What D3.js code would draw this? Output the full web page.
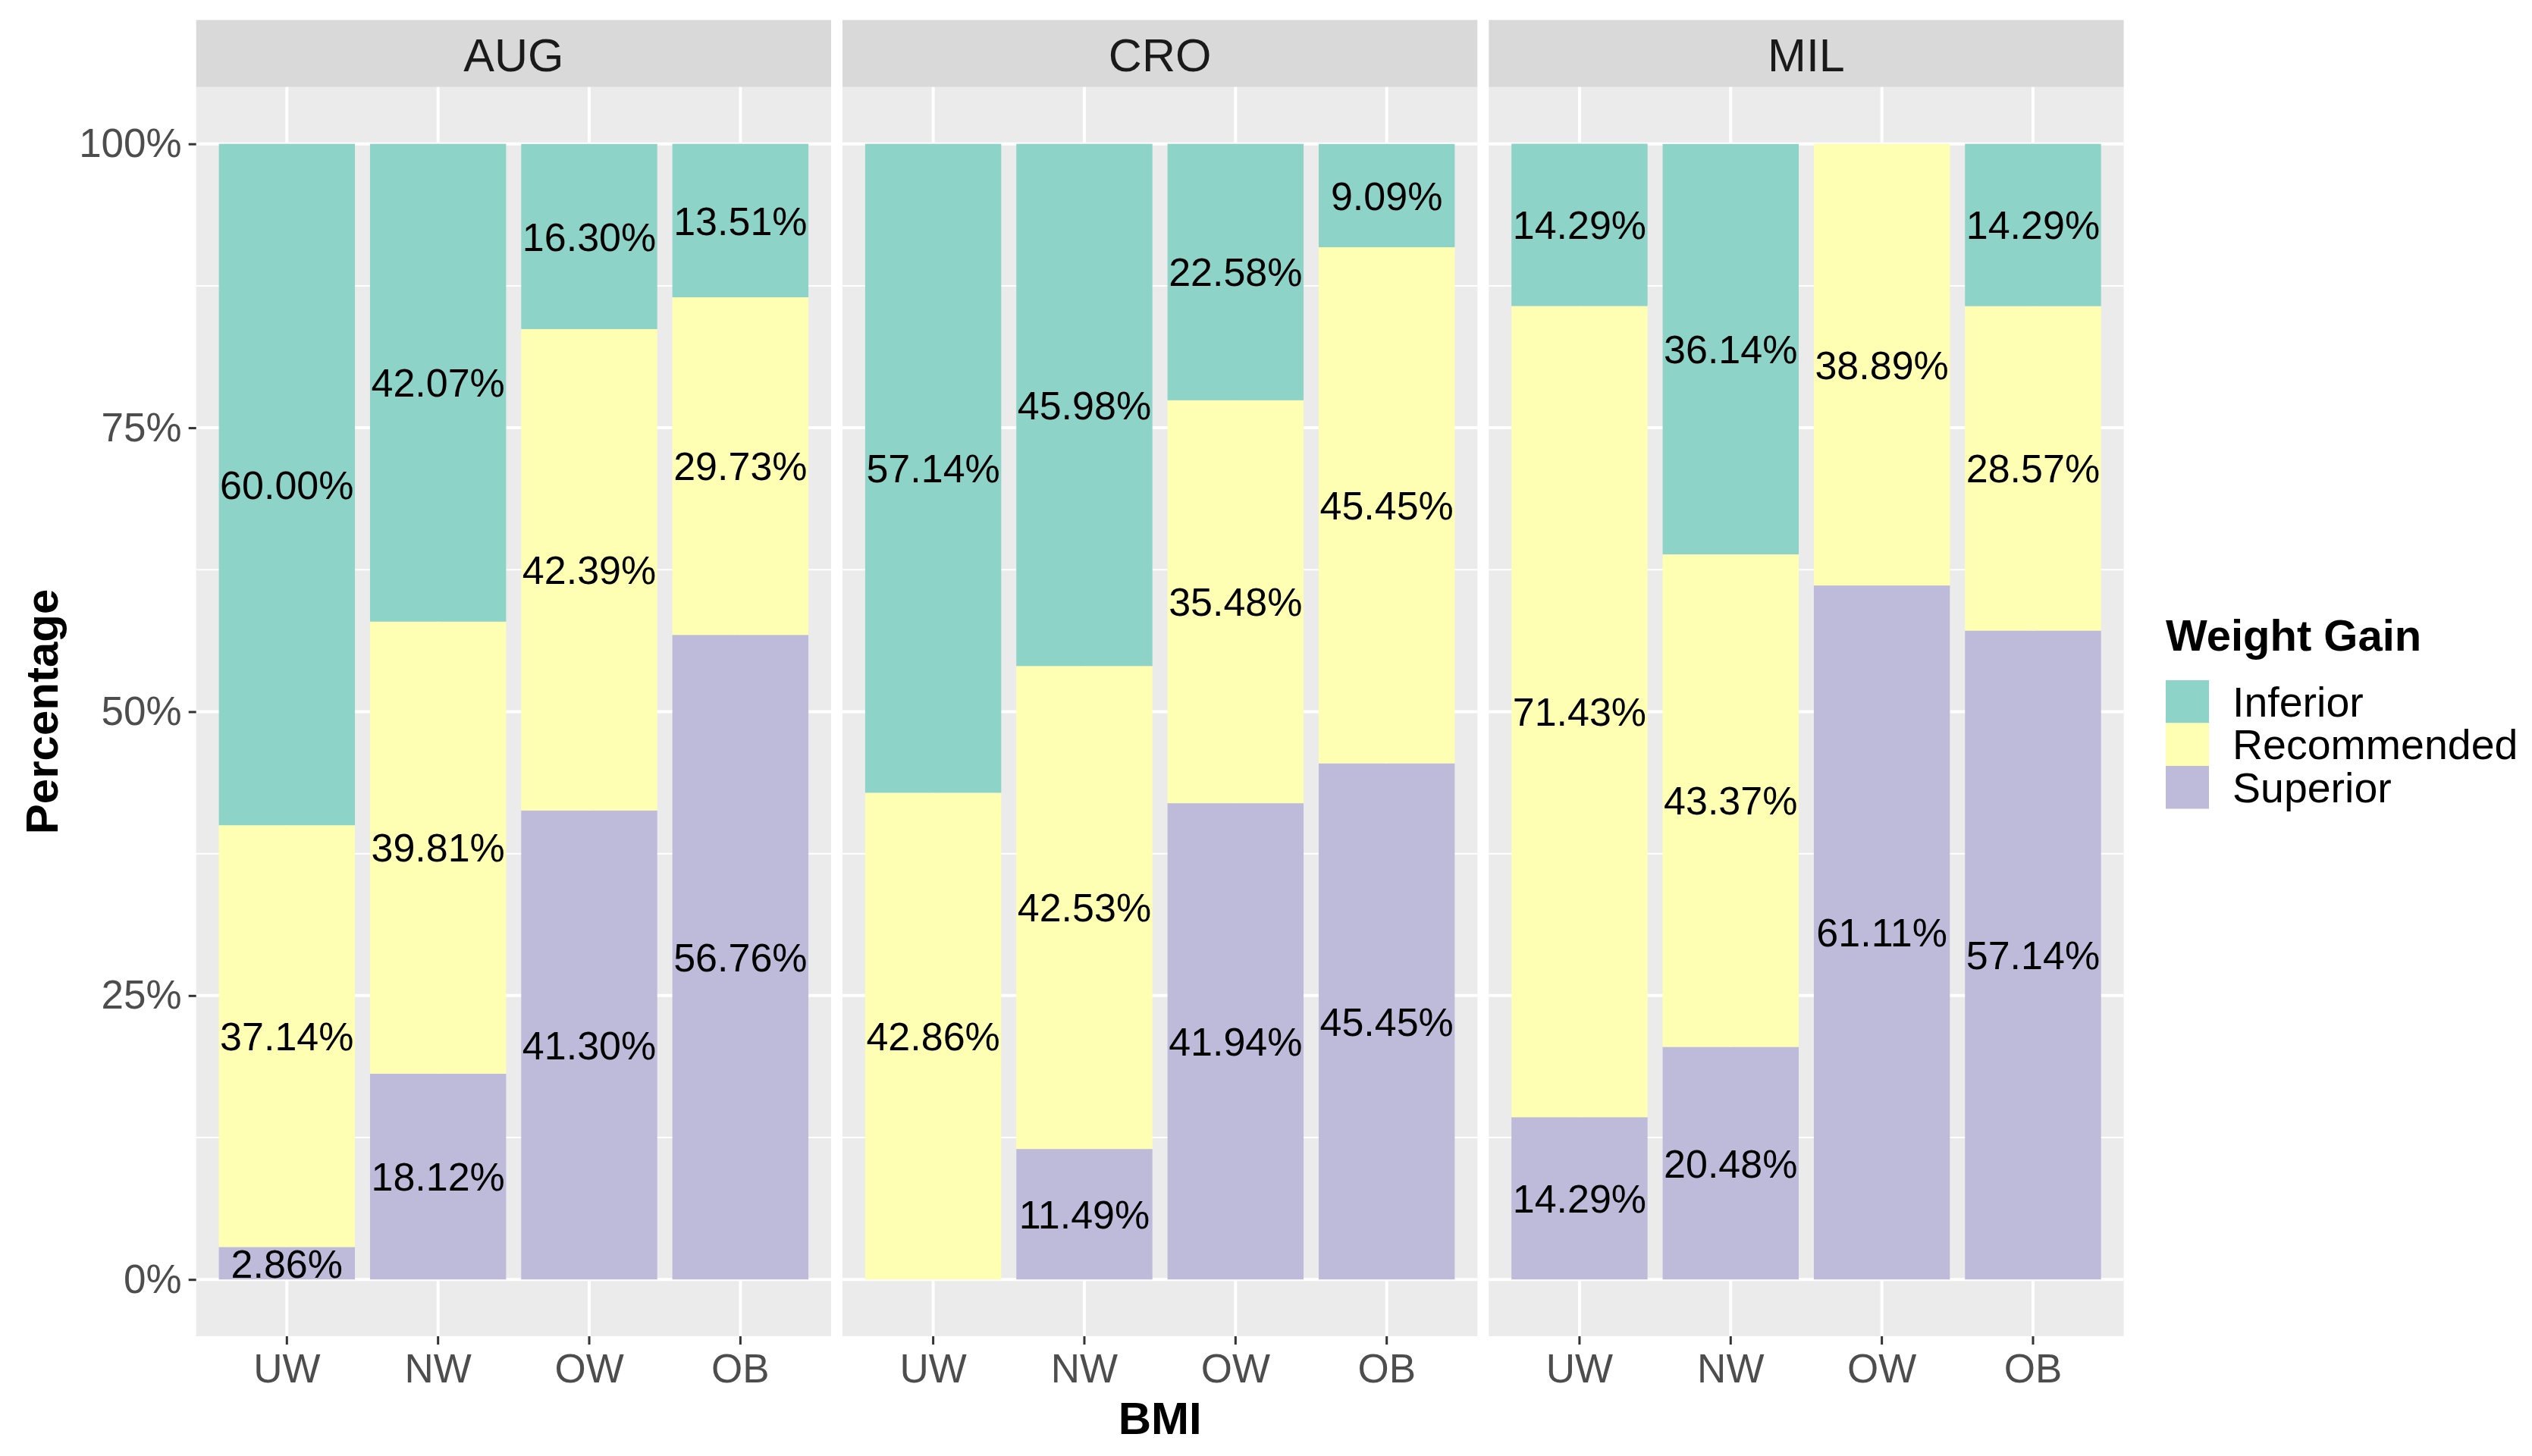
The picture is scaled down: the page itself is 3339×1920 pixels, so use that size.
<!DOCTYPE html>
<html>
<head>
<meta charset="utf-8">
<script src="https://cdn.jsdelivr.net/npm/d3@7"></script>
<style>
  body { margin: 0; background: #ffffff; }
  svg { display: block; font-family: 'Liberation Sans', Arial, sans-serif; }
</style>
</head>
<body>
<div id="chart"></div>
<script>
// Weight gain categories by BMI group, faceted by site

const facets = ['AUG', 'CRO', 'MIL'];
const bmiGroups = ['UW', 'NW', 'OW', 'OB'];
const weightGains = ['Inferior', 'Recommended', 'Superior'];

// One value per facet x BMI group (AUG UW..OB, CRO UW..OB, MIL UW..OB)
const inferiorValues    = [60.00, 42.07, 16.30, 13.51, 57.14, 45.98, 22.58, 9.09, 14.29, 36.14, 0, 14.29];
const recommendedValues = [37.14, 39.81, 42.39, 29.73, 42.86, 42.53, 35.48, 45.45, 71.43, 43.37, 38.89, 28.57];
const superiorValues    = [2.86, 18.12, 41.30, 56.76, 0, 11.49, 41.94, 45.45, 14.29, 20.48, 61.11, 57.14];

const yTicks = [0, 25, 50, 75, 100];
const yMinorTicks = [12.5, 37.5, 62.5, 87.5];

// Build rows for d3.stack
const rows = [];
facets.forEach((f, fi) => {
  bmiGroups.forEach((b, bi) => {
    const i = fi * bmiGroups.length + bi;
    rows.push({
      facet: f,
      bmi: b,
      Inferior: inferiorValues[i],
      Recommended: recommendedValues[i],
      Superior: superiorValues[i]
    });
  });
});

const W = 3339, H = 1920;
const panelLeft = 258.7, panelRight = 2800.6;
const panelGap = 15;

const textColor = '#4D4D4D';
const colorScale = d3.scaleOrdinal()
  .domain(weightGains)
  .range(['#8DD3C7', '#FFFFB3', '#BEBADA']);

const svg = d3.select('#chart')
  .append('svg')
  .attr('width', W)
  .attr('height', H);

// Facet positions
const facetScale = d3.scaleBand()
  .domain(facets)
  .range([panelLeft, panelRight])
  .paddingInner(panelGap / ((panelRight - panelLeft - 2 * panelGap) / 3 + panelGap));

const panelWidth = facetScale.bandwidth();

// BMI groups inside a panel (ggplot style: 0.6 expansion, 0.9 bar width)
const xScale = d3.scaleBand()
  .domain(bmiGroups)
  .range([0, panelWidth])
  .paddingInner(0.1)
  .paddingOuter(0.15);

// Percentage scale, 5% expansion each side
const yScale = d3.scaleLinear()
  .domain([0, 100])
  .range([1687.2, 189.7]);

const panelTop = yScale(105);
const panelBottom = yScale(-5);
const stripHeight = 88.5;

// Stack Superior at the bottom, Inferior on top
const stack = d3.stack().keys(['Superior', 'Recommended', 'Inferior']);

facets.forEach(f => {
  const g = svg.append('g')
    .attr('transform', `translate(${facetScale(f)}, 0)`);

  // Strip
  g.append('rect')
    .attr('x', 0)
    .attr('y', panelTop - stripHeight)
    .attr('width', panelWidth)
    .attr('height', stripHeight)
    .attr('fill', '#D9D9D9');

  g.append('text')
    .attr('x', panelWidth / 2)
    .attr('y', panelTop - stripHeight / 2)
    .attr('dy', '0.38em')
    .attr('text-anchor', 'middle')
    .style('font-size', '61px')
    .style('fill', '#1A1A1A')
    .text(f);

  // Panel background
  g.append('rect')
    .attr('x', 0)
    .attr('y', panelTop)
    .attr('width', panelWidth)
    .attr('height', panelBottom - panelTop)
    .attr('fill', '#EBEBEB');

  // Minor grid
  g.selectAll('.minor')
    .data(yMinorTicks)
    .enter()
    .append('line')
    .attr('x1', 0)
    .attr('x2', panelWidth)
    .attr('y1', d => yScale(d))
    .attr('y2', d => yScale(d))
    .attr('stroke', '#ffffff')
    .attr('stroke-width', 2);

  // Major grid
  g.selectAll('.major')
    .data(yTicks)
    .enter()
    .append('line')
    .attr('x1', 0)
    .attr('x2', panelWidth)
    .attr('y1', d => yScale(d))
    .attr('y2', d => yScale(d))
    .attr('stroke', '#ffffff')
    .attr('stroke-width', 4);

  g.selectAll('.vgrid')
    .data(bmiGroups)
    .enter()
    .append('line')
    .attr('x1', d => xScale(d) + xScale.bandwidth() / 2)
    .attr('x2', d => xScale(d) + xScale.bandwidth() / 2)
    .attr('y1', panelTop)
    .attr('y2', panelBottom)
    .attr('stroke', '#ffffff')
    .attr('stroke-width', 4);

  // Bars
  const facetRows = rows.filter(r => r.facet === f);
  const series = stack(facetRows);

  series.forEach(s => {
    g.selectAll(`.bar-${s.key}`)
      .data(s)
      .enter()
      .append('rect')
      .attr('x', d => xScale(d.data.bmi))
      .attr('y', d => yScale(d[1]))
      .attr('width', xScale.bandwidth())
      .attr('height', d => yScale(d[0]) - yScale(d[1]))
      .attr('fill', colorScale(s.key));
  });

  // Value labels in the middle of each segment
  series.forEach(s => {
    g.selectAll(`.label-${s.key}`)
      .data(s.filter(d => d[1] - d[0] > 0))
      .enter()
      .append('text')
      .attr('x', d => xScale(d.data.bmi) + xScale.bandwidth() / 2)
      .attr('y', d => yScale((d[0] + d[1]) / 2))
      .attr('dy', '0.36em')
      .attr('text-anchor', 'middle')
      .style('font-size', '52px')
      .style('fill', '#000000')
      .text(d => d.data[s.key].toFixed(2) + '%');
  });

  // X axis
  const xAxis = d3.axisBottom(xScale)
    .tickSize(11)
    .tickPadding(12);

  const xAxisGroup = g.append('g')
    .attr('transform', `translate(0, ${panelBottom})`)
    .call(xAxis);

  xAxisGroup.select('.domain').remove();
  xAxisGroup.selectAll('.tick line')
    .attr('stroke', '#333333')
    .attr('stroke-width', 3);
  xAxisGroup.selectAll('.tick text')
    .style('font-size', '53px')
    .style('font-family', "'Liberation Sans', Arial, sans-serif")
    .style('fill', textColor);
});

// Y axis (left of first panel)
const yAxis = d3.axisLeft(yScale)
  .tickValues(yTicks)
  .tickFormat(d => d + '%')
  .tickSize(10)
  .tickPadding(9);

const yAxisGroup = svg.append('g')
  .attr('transform', `translate(${panelLeft}, 0)`)
  .call(yAxis);

yAxisGroup.select('.domain').remove();
yAxisGroup.selectAll('.tick line')
  .attr('stroke', '#333333')
  .attr('stroke-width', 3);
yAxisGroup.selectAll('.tick text')
  .style('font-size', '53px')
  .style('font-family', "'Liberation Sans', Arial, sans-serif")
  .style('fill', textColor);

// Axis titles
svg.append('text')
  .attr('x', (panelLeft + panelRight) / 2)
  .attr('y', 1891)
  .attr('text-anchor', 'middle')
  .style('font-size', '60px')
  .style('font-weight', '700')
  .style('fill', '#000000')
  .text('BMI');

svg.append('text')
  .attr('transform', `translate(76, ${(panelTop + panelBottom) / 2}) rotate(-90)`)
  .attr('text-anchor', 'middle')
  .style('font-size', '60px')
  .style('font-weight', '700')
  .style('fill', '#000000')
  .text('Percentage');

// Legend
const legend = svg.append('g')
  .attr('transform', 'translate(2856, 0)');

legend.append('text')
  .attr('x', 0)
  .attr('y', 858)
  .style('font-size', '58px')
  .style('font-weight', '700')
  .style('fill', '#000000')
  .text('Weight Gain');

const keySize = 56.5;
const legendItems = legend.selectAll('.legend-item')
  .data(weightGains)
  .enter()
  .append('g')
  .attr('transform', (d, i) => `translate(0, ${897 + i * keySize})`);

legendItems.append('rect')
  .attr('width', 57)
  .attr('height', keySize)
  .attr('fill', d => colorScale(d));

legendItems.append('text')
  .attr('x', 88)
  .attr('y', keySize / 2)
  .attr('dy', '0.35em')
  .style('font-size', '55.5px')
  .style('fill', '#000000')
  .text(d => d);
</script>
</body>
</html>
